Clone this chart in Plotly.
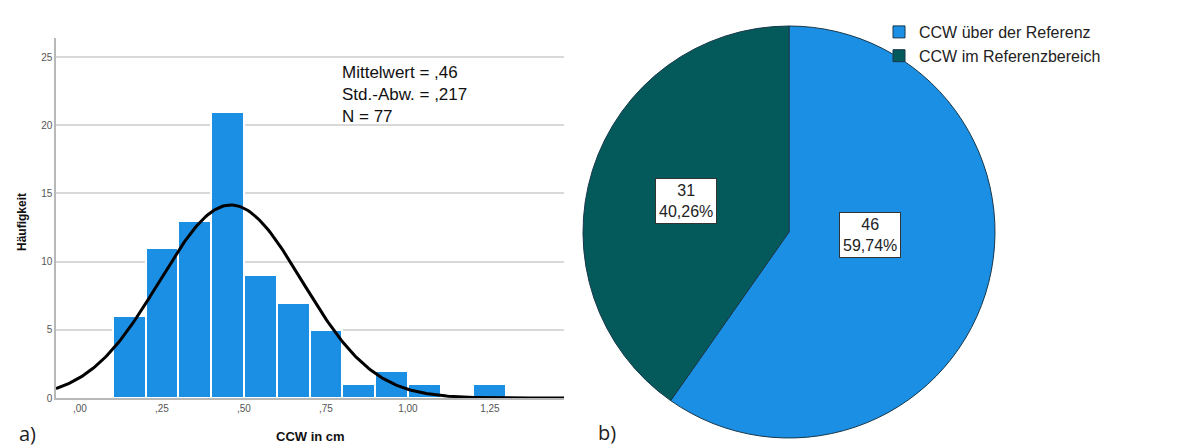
import numpy as np
import plotly.graph_objects as go

# Histogram data: CCW (cm), bins of width 0.1
bin_left = [0.1, 0.2, 0.3, 0.4, 0.5, 0.6, 0.7, 0.8, 0.9, 1.0, 1.1, 1.2]
counts = [6, 11, 13, 21, 9, 7, 5, 1, 2, 1, 0, 1]
bin_width = 0.1
mean_ccw = 0.46
std_ccw = 0.217
n_total = 77

x_tickvals = [0.0, 0.25, 0.5, 0.75, 1.0, 1.25]
x_ticktext = [",00", ",25", ",50", ",75", "1,00", "1,25"]
y_tickvals = [0, 5, 10, 15, 20, 25]

# Pie data
pie_labels = ["CCW über der Referenz", "CCW im Referenzbereich"]
pie_values = [46, 31]
pie_colors = ["#1b8fe4", "#045a5a"]

BAR_BLUE = "#1b8fe4"
W, H = 1199, 448


def px_x(px):
    return px / W


def px_y(py):
    return (H - py) / H


fig = go.Figure()

# Histogram bars
centers = [b + bin_width / 2 for b in bin_left]
fig.add_trace(go.Bar(
    x=centers, y=counts, width=bin_width,
    marker=dict(color=BAR_BLUE, line=dict(color="white", width=2)),
    showlegend=False, xaxis="x", yaxis="y", hoverinfo="x+y",
))

# Fitted normal curve scaled to counts
x_range = [-0.073, 1.476]
xs = np.linspace(x_range[0], x_range[1], 300)
ys = n_total * bin_width / (std_ccw * np.sqrt(2 * np.pi)) * np.exp(-0.5 * ((xs - mean_ccw) / std_ccw) ** 2)
fig.add_trace(go.Scatter(
    x=xs, y=ys, mode="lines", line=dict(color="black", width=3),
    showlegend=False, xaxis="x", yaxis="y", hoverinfo="skip",
))

# Pie chart
fig.add_trace(go.Pie(
    labels=pie_labels, values=pie_values, sort=False, direction="clockwise",
    rotation=0, marker=dict(colors=pie_colors, line=dict(color="#17384a", width=1)),
    textinfo="none", hoverinfo="label+value+percent",
    domain=dict(x=[px_x(583), px_x(995)], y=[px_y(438), px_y(26)]),
))

tick_font = dict(family="Liberation Sans, Arial", size=10, color="#555555")
fig.update_layout(
    width=W, height=H,
    margin=dict(l=0, r=0, t=0, b=0),
    paper_bgcolor="white", plot_bgcolor="white",
    bargap=0,
    xaxis=dict(
        domain=[px_x(56), px_x(564)], range=x_range,
        tickvals=x_tickvals, ticktext=x_ticktext, tickfont=tick_font,
        showgrid=False, zeroline=False, showline=True, linecolor="#b8b8b8", linewidth=1.5,
        ticks="", automargin=False, anchor="y",
    ),
    yaxis=dict(
        domain=[px_y(398), px_y(38)], range=[0, 26.4],
        tickvals=y_tickvals, tickfont=tick_font,
        showgrid=True, gridcolor="#d9d9d9", gridwidth=1.5,
        zeroline=False, showline=True, linecolor="#b8b8b8", linewidth=1.5,
        ticks="", automargin=False, anchor="x",
    ),
    legend=dict(
        x=px_x(879), y=px_y(15), xanchor="left", yanchor="top",
        font=dict(family="Liberation Sans, Arial", size=16, color="#222222"),
        bgcolor="rgba(0,0,0,0)", tracegroupgap=0,
    ),
)

annotations = []
# Statistics text block
stat_text = "<br>".join([
    f"Mittelwert = ,{round(mean_ccw * 100):d}",
    f"Std.-Abw. = ,{round(std_ccw * 1000):d}",
    f"N = {n_total}",
])
annotations.append(dict(
    x=px_x(340), y=px_y(95), xref="paper", yref="paper",
    xanchor="left", yanchor="middle", align="left", showarrow=False, text=stat_text,
    font=dict(family="Liberation Sans, Arial", size=17, color="#111111"),
))

# Axis titles
annotations.append(dict(
    x=px_x(310), y=px_y(436), xref="paper", yref="paper", showarrow=False,
    xanchor="center", yanchor="middle",
    text="<b>CCW in cm</b>", font=dict(family="Liberation Sans, Arial", size=13, color="#111111"),
))
annotations.append(dict(
    x=px_x(22), y=px_y(222), xref="paper", yref="paper", showarrow=False, textangle=-90,
    xanchor="center", yanchor="middle",
    text="<b>Häufigkeit</b>", font=dict(family="Liberation Sans, Arial", size=12, color="#111111"),
))

# Panel letters
for letter, xp, yp in [("a)", 27, 433), ("b)", 607, 432)]:
    annotations.append(dict(
        x=px_x(xp), y=px_y(yp), xref="paper", yref="paper", showarrow=False,
        xanchor="center", yanchor="middle",
        text=letter, font=dict(family="Open Sans, Lato", size=20, color="#222222"),
    ))

# Boxed pie labels: count and percentage
total = sum(pie_values)
label_pos = [(870, 235), (686, 201)]
for v, (lx, ly) in zip(pie_values, label_pos):
    pct = f"{100 * v / total:.2f}".replace(".", ",")
    annotations.append(dict(
        x=px_x(lx), y=px_y(ly), xref="paper", yref="paper", showarrow=False,
        xanchor="center", yanchor="middle",
        text=f"{v}<br>{pct}%", align="center",
        font=dict(family="Liberation Sans, Arial", size=16, color="#222222"),
        bgcolor="white", bordercolor="#333333", borderwidth=1, borderpad=3,
    ))

fig.update_layout(annotations=annotations)
fig.write_html("out.html")
